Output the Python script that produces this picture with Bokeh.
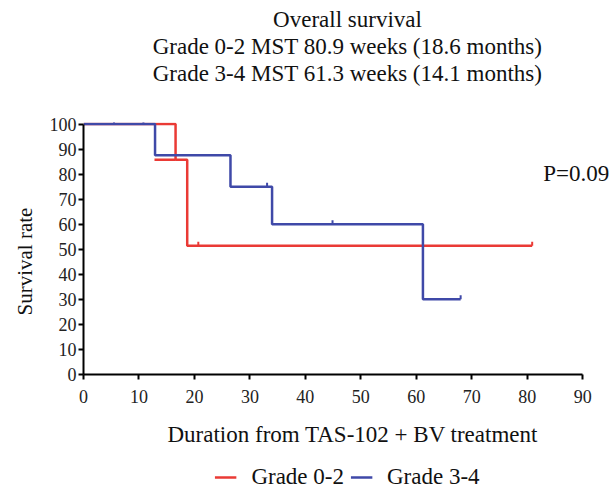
import numpy as np
from bokeh.plotting import figure
from bokeh.layouts import column
from bokeh.models import Title, Label, Legend, LegendItem, FixedTicker, Range1d
from bokeh.embed import file_html
from bokeh.resources import INLINE

# Grade 0-2 step curve (weeks, survival %)
red_x = [0, 16.6, 16.6, 18.7, 18.7, 80.9]
red_y = [100, 100, 85.7, 85.7, 51.4, 51.4]
# short extra red segment seen in the figure
red_extra_x = [12.8, 16.6]
red_extra_y = [85.7, 85.7]
red_cens_x = [20.7, 80.9]
red_cens_y = [51.4, 51.4]

# Grade 3-4 step curve
blue_x = [0, 12.9, 12.9, 26.5, 26.5, 34.0, 34.0, 61.2, 61.2, 68.0]
blue_y = [100, 100, 87.5, 87.5, 75.0, 75.0, 60.0, 60.0, 30.0, 30.0]
blue_cens_x = [5.5, 10.8, 33.1, 44.9, 68.0]
blue_cens_y = [100, 100, 75.0, 60.0, 30.0]

x_ticks = [0, 10, 20, 30, 40, 50, 60, 70, 80, 90]
y_ticks = [0, 10, 20, 30, 40, 50, 60, 70, 80, 90, 100]

title_lines = ["Overall survival",
               "Grade 0-2 MST 80.9 weeks (18.6 months)",
               "Grade 3-4 MST 61.3 weeks (14.1 months)"]
series_names = ["Grade 0-2", "Grade 3-4"]
x_label = "Duration from TAS-102 + BV treatment"
y_label = "Survival rate"
p_text = "P=0.09"

RED = "#ea3a35"
BLUE = "#3f49a8"
FONT = "Liberation Serif"

p = figure(width=611, height=460, output_backend="svg", toolbar_location=None,
           x_range=Range1d(0, 95.2), y_range=Range1d(0, 100.6),
           min_border_left=82, min_border_right=0, min_border_top=122,
           min_border_bottom=86)
p.title = None
p.grid.visible = False
p.outline_line_color = None
p.background_fill_color = "white"
p.border_fill_color = "white"

for ax in (p.xaxis[0], p.yaxis[0]):
    ax.axis_line_width = 2
    ax.axis_line_color = "black"
    ax.major_tick_line_width = 2
    ax.major_tick_line_color = "black"
    ax.major_tick_in = 0
    ax.major_tick_out = 5
    ax.minor_tick_line_color = None
    ax.major_label_text_font = FONT
    ax.major_label_text_font_size = "18px"
    ax.major_label_text_color = "#222222"

p.xaxis.ticker = FixedTicker(ticks=x_ticks)
p.yaxis.ticker = FixedTicker(ticks=y_ticks)
p.xaxis.bounds = (0, 90)
p.yaxis.bounds = (0, 100)
p.xaxis.major_label_standoff = 10
p.yaxis.major_label_standoff = 2

r_red = p.line(red_x, red_y, line_color=RED, line_width=2.5)
p.line(red_extra_x, red_extra_y, line_color=RED, line_width=2.5)
p.ray(red_cens_x, red_cens_y, length=4, length_units="screen", angle=np.pi / 2,
      line_color=RED, line_width=2)
r_blue = p.line(blue_x, blue_y, line_color=BLUE, line_width=2.5)
p.ray(blue_cens_x, blue_cens_y, length=4, length_units="screen", angle=np.pi / 2,
      line_color=BLUE, line_width=2)

p.add_layout(Label(x=82.9, y=80.4, text=p_text, text_baseline="middle",
                   text_font=FONT, text_font_size="23px", text_color="#111111",
                   text_align="left"))

# x-axis label as a below title (shifted right like the reference)
p.add_layout(Title(text=x_label, align="left", offset=84, text_font=FONT,
                   text_font_size="23px", text_font_style="normal",
                   text_color="#111111", standoff=28), "below")

# y-axis label as a left title (shifted down like the reference)
p.add_layout(Title(text=y_label, align="left", offset=59, text_font=FONT,
                   text_font_size="21px", text_font_style="normal",
                   text_color="#111111", standoff=20), "left")

# spacer between frame and the title block
p.add_layout(Title(text=" ", text_font_size="1px", standoff=34), "above")
# title lines: last-added sits outermost
for t in reversed(title_lines):
    p.add_layout(Title(text=t, align="center", text_font=FONT, text_font_size="23px",
                       text_font_style="normal", text_color="#111111",
                       standoff=0, offset=0), "above")

# legend strip below the chart
lg = figure(width=611, height=30, output_backend="svg", toolbar_location=None,
            x_axis_location=None, y_axis_location=None,
            x_range=Range1d(-200, -199), y_range=Range1d(-200, -199),
            min_border_left=33, min_border_right=0, min_border_top=3,
            min_border_bottom=0)
lg.title = None
lg.grid.visible = False
lg.outline_line_color = None
l_red = lg.line(red_x, red_y, line_color=RED, line_width=2.5)
l_blue = lg.line(blue_x, blue_y, line_color=BLUE, line_width=2.5)
legend = Legend(items=[LegendItem(label=series_names[0], renderers=[l_red]),
                       LegendItem(label=series_names[1], renderers=[l_blue])],
                orientation="horizontal", location="center",
                label_text_font=FONT, label_text_font_size="23px",
                label_text_color="#111111",
                glyph_width=22, glyph_height=18, spacing=6,
                border_line_color=None, background_fill_alpha=0,
                margin=0, padding=0, label_standoff=15)
lg.add_layout(legend)

layout = column(p, lg, spacing=0)
open("out.html", "w").write(file_html(layout, INLINE))
